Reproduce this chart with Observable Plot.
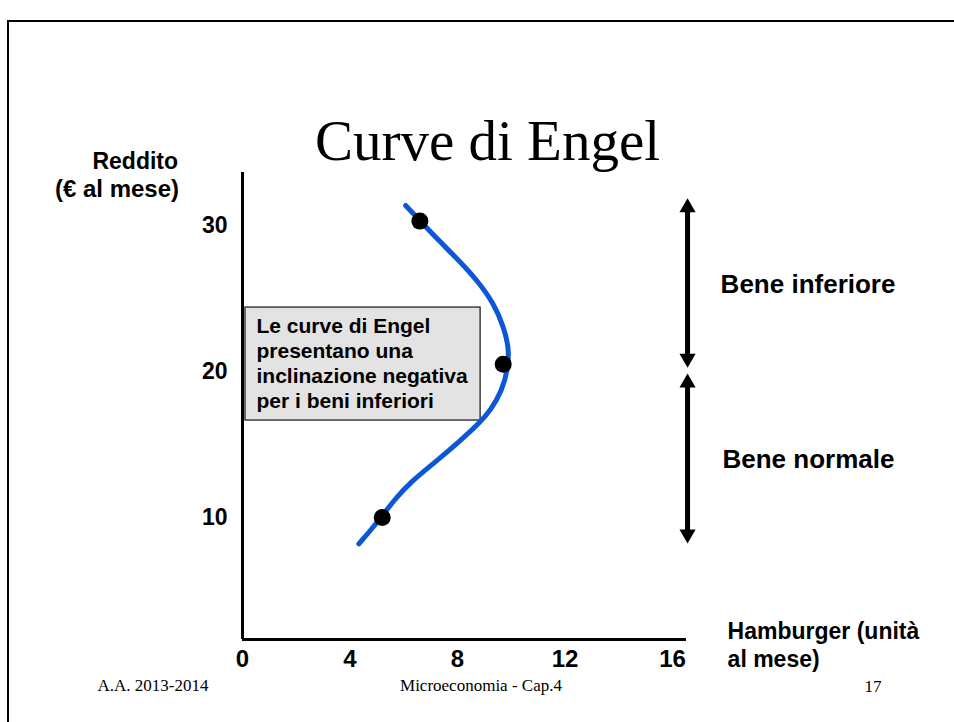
<!DOCTYPE html>
<html>
<head>
<meta charset="utf-8">
<script src="https://cdn.jsdelivr.net/npm/d3@7"></script>
<script src="https://cdn.jsdelivr.net/npm/@observablehq/plot@0.6"></script>
<style>
  html, body { margin: 0; padding: 0; background: #fff; }
  #slide { position: relative; width: 954px; height: 722px; overflow: hidden; background: #fff; }
  #border { position: absolute; left: 7px; top: 20px; width: 1000px; height: 800px;
            border-top: 2px solid #000; border-left: 2px solid #000; }
  .serif { position: absolute; font-family: "Liberation Serif", "Times New Roman", serif;
           color: #000; white-space: nowrap; line-height: 1; text-align: center; }
  #chart { position: absolute; left: 0; top: 0; }
</style>
</head>
<body>
<div id="slide">
  <div id="border"></div>
  <div id="chart"></div>
  <div class="serif" id="title" style="left:0;width:975px;top:112px;font-size:57px;">Curve di Engel</div>
  <div class="serif" id="f1" style="left:53px;width:200px;top:677px;font-size:17px;">A.A. 2013-2014</div>
  <div class="serif" id="f2" style="left:331px;width:300px;top:677px;font-size:17px;">Microeconomia - Cap.4</div>
  <div class="serif" id="f3" style="left:823px;width:100px;top:678px;font-size:17px;">17</div>
</div>
<script>
// ---- Data ----
// Engel curve for hamburgers: quantity (units / month) vs. income (€ / month)
const hamburger = [6.07, 6.60, 7.24, 7.99, 8.74, 9.36, 9.72, 9.91, 9.89, 9.66, 9.23, 8.79, 8.11, 7.24, 6.24, 5.63, 5.16, 4.76, 4.33];
const reddito   = [31.37, 30.34, 29.09, 27.72, 26.23, 24.64, 23.03, 21.66, 20.29, 18.70, 17.33, 16.42, 15.27, 13.90, 12.42, 11.16, 10.02, 9.11, 8.20];
// Highlighted points on the curve
const pointX = [6.6, 9.7, 5.2];
const pointY = [30.3, 20.5, 10.0];
// Tick labels
const xTicks = [0, 4, 8, 12, 16];
const yTicks = [10, 20, 30];
// Texts
const yLabel1 = "Reddito";
const yLabel2 = "(€ al mese)";
const xLabel = "Hamburger (unità\nal mese)";
const boxText = "Le curve di Engel\npresentano una\ninclinazione negativa\nper i beni inferiori";
const upperRange = "Bene inferiore";
const lowerRange = "Bene normale";

const curve = hamburger.map((h, i) => ({h, r: reddito[i]}));
const points = pointX.map((x, i) => ({x, y: pointY[i]}));

const SANS = "'Liberation Sans', Arial, Helvetica, sans-serif";
const BLUE = "#0b57d6";

const chart = Plot.plot({
  width: 954,
  height: 722,
  marginLeft: 242,
  marginRight: 282,
  marginTop: 225,
  marginBottom: 205,
  style: {background: "transparent", overflow: "visible", fontFamily: SANS, color: "#000"},
  x: {domain: [0, 16]},
  y: {domain: [10, 30]},
  marks: [
    // axes lines
    Plot.ruleX([0], {y1: 1.644, y2: 33.63, stroke: "#000", strokeWidth: 3}),
    Plot.ruleY([1.644], {x1: 0, x2: 16.52, stroke: "#000", strokeWidth: 3}),
    // tick labels
    Plot.axisX(xTicks, {tickSize: 0, tickPadding: 0, dy: 132, fontSize: 24, fontWeight: "bold", label: null}),
    Plot.axisY(yTicks, {tickSize: 0, tickPadding: 15, fontSize: 23, fontWeight: "bold", label: null}),
    // axis titles
    Plot.text([yLabel1], {x: -3.99, y: 33.9, text: d => d, textAnchor: "middle", lineAnchor: "bottom",
      fontSize: 23, fontWeight: "bold", fill: "#000"}),
    Plot.text([yLabel2], {x: -4.67, y: 31.92, text: d => d, textAnchor: "middle", lineAnchor: "bottom",
      fontSize: 24, fontWeight: "bold", fill: "#000"}),
    Plot.text([xLabel], {x: 18.05, y: -0.27, text: d => d, textAnchor: "start", lineAnchor: "bottom",
      lineHeight: 1.22, fontSize: 23, fontWeight: "bold", fill: "#000"}),
    // annotation box
    Plot.rect([0], {x1: 0.11, x2: 8.86, y1: 16.64, y2: 24.38, fill: "#e3e3e3", stroke: "#222", strokeWidth: 1.3}),
    Plot.text([boxText], {x: 0.52, y: 17.47, text: d => d, textAnchor: "start", lineAnchor: "bottom",
      lineHeight: 1.19, fontSize: 21, fontWeight: "bold", fill: "#000"}),
    // Engel curve
    Plot.line(curve, {x: "h", y: "r", curve: "basis", stroke: BLUE, strokeWidth: 5}),
    Plot.dot(points, {x: "x", y: "y", r: 8.5, fill: "#000", stroke: null}),
    // range arrows
    Plot.ruleX([16.56], {y1: 31.85, y2: 20.27, stroke: "#000", strokeWidth: 5, insetTop: 9, insetBottom: 9}),
    Plot.ruleX([16.56], {y1: 19.86, y2: 8.22, stroke: "#000", strokeWidth: 5, insetTop: 9, insetBottom: 9}),
    Plot.dot([31.85, 19.86], {x: 16.56, y: d => d, symbol: "triangle", r: 6, dy: 9.2, fill: "#000", stroke: null}),
    Plot.dot([20.27, 8.22], {x: 16.56, y: d => d, symbol: "triangle", r: 6, dy: -9.2, rotate: 180, fill: "#000", stroke: null}),
    Plot.text([upperRange], {x: 17.79, y: 25.41, text: d => d, textAnchor: "start", lineAnchor: "bottom",
      fontSize: 26, fontWeight: "bold", fill: "#000"}),
    Plot.text([lowerRange], {x: 17.86, y: 13.36, text: d => d, textAnchor: "start", lineAnchor: "bottom",
      fontSize: 26, fontWeight: "bold", fill: "#000"})
  ]
});
document.getElementById("chart").appendChild(chart);
</script>
</body>
</html>
